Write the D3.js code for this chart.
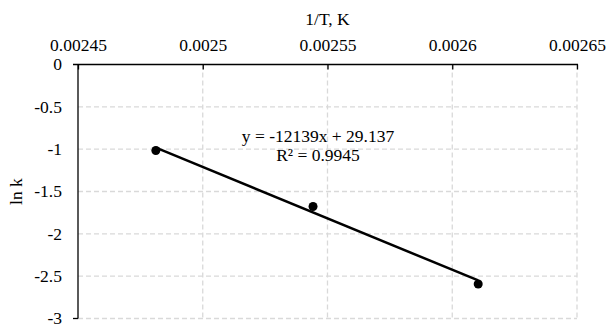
<!DOCTYPE html>
<html>
<head>
<meta charset="utf-8">
<script src="https://cdnjs.cloudflare.com/ajax/libs/d3/7.8.5/d3.min.js"></script>
<style>
  body { margin: 0; background: #fff; }
  svg text { font-family: "Liberation Serif", "Times New Roman", serif; fill: #000; }
</style>
</head>
<body>
<div id="chart"></div>
<script>
// measured points (1/T vs ln k)
const invT = [0.0024812, 0.0025442, 0.0026104];
const lnK = [-1.016, -1.677, -2.592];
// linear trendline shown in the chart
const slope = -12139;
const intercept = 29.137;
const xTicks = [0.00245, 0.0025, 0.00255, 0.0026, 0.00265];
const xTickLabels = ["0.00245", "0.0025", "0.00255", "0.0026", "0.00265"];
const yTicks = [0, -0.5, -1, -1.5, -2, -2.5, -3];
const yTickLabels = ["0", "-0.5", "-1", "-1.5", "-2", "-2.5", "-3"];

const width = 609, height = 327;
const margin = {top: 64.5, right: 32, bottom: 8, left: 78};
const fontSize = "17.5px";

const svg = d3.select("#chart")
  .append("svg")
  .attr("width", width)
  .attr("height", height);

const x = d3.scaleLinear()
  .domain([0.00245, 0.00265])
  .range([margin.left, width - margin.right]);

const y = d3.scaleLinear()
  .domain([0, -3])
  .range([margin.top, height - margin.bottom - 0.5]);

// gridlines
svg.append("g")
  .selectAll("line")
  .data(yTicks.filter(d => d !== 0))
  .enter()
  .append("line")
  .attr("x1", x(0.00245))
  .attr("x2", x(0.00265))
  .attr("y1", d => y(d))
  .attr("y2", d => y(d))
  .attr("stroke", "#d9d9d9")
  .attr("stroke-width", 1.3)
  .attr("stroke-dasharray", "5,3");

svg.append("g")
  .selectAll("line")
  .data(xTicks.slice(1))
  .enter()
  .append("line")
  .attr("x1", d => x(d))
  .attr("x2", d => x(d))
  .attr("y1", y(0))
  .attr("y2", y(-3))
  .attr("stroke", "#d9d9d9")
  .attr("stroke-width", 1.3)
  .attr("stroke-dasharray", "5,3");

// top x axis
const xAxis = d3.axisTop(x)
  .tickValues(xTicks)
  .tickFormat((d, i) => xTickLabels[i])
  .tickSize(-5)
  .tickPadding(14);

const gx = svg.append("g")
  .attr("transform", "translate(0," + y(0) + ")")
  .call(xAxis);
gx.select(".domain").remove();
gx.selectAll(".tick line").attr("stroke", "#000").attr("stroke-width", 1.3);
gx.selectAll(".tick text")
  .style("font-size", fontSize)
  .style("font-family", "'Liberation Serif', serif");
gx.append("line")
  .attr("x1", x(0.00245) - 5)
  .attr("x2", x(0.00265) + 1)
  .attr("y1", 0).attr("y2", 0)
  .attr("stroke", "#000")
  .attr("stroke-width", 1.3);

// left y axis
const yAxis = d3.axisLeft(y)
  .tickValues(yTicks)
  .tickFormat((d, i) => yTickLabels[i])
  .tickSize(0)
  .tickPadding(16);

const gy = svg.append("g")
  .attr("transform", "translate(" + x(0.00245) + ",0)")
  .call(yAxis);
gy.select(".domain").remove();
gy.selectAll(".tick text")
  .style("font-size", fontSize)
  .style("font-family", "'Liberation Serif', serif")
  .attr("dy", "0.3em");
gy.append("line")
  .attr("x1", 0).attr("x2", 0)
  .attr("y1", y(0))
  .attr("y2", y(-3))
  .attr("stroke", "#000")
  .attr("stroke-width", 1.3);
gy.append("line")
  .attr("x1", -5).attr("x2", 0)
  .attr("y1", y(-3)).attr("y2", y(-3))
  .attr("stroke", "#000")
  .attr("stroke-width", 1.3);

// axis titles
svg.append("text")
  .attr("x", (x(0.00245) + x(0.00265)) / 2)
  .attr("y", 25)
  .attr("text-anchor", "middle")
  .style("font-size", fontSize)
  .text("1/T, K");

svg.append("text")
  .attr("transform", "translate(22," + (y(0) + y(-3)) / 2 + ") rotate(-90)")
  .attr("text-anchor", "middle")
  .style("font-size", fontSize)
  .text("ln k");

// trendline
const xMin = d3.min(invT), xMax = d3.max(invT);
svg.append("line")
  .attr("x1", x(xMin))
  .attr("y1", y(slope * xMin + intercept))
  .attr("x2", x(xMax))
  .attr("y2", y(slope * xMax + intercept))
  .attr("stroke", "#000")
  .attr("stroke-width", 2.5);

// points
svg.append("g")
  .selectAll("circle")
  .data(invT.map((d, i) => [d, lnK[i]]))
  .enter()
  .append("circle")
  .attr("cx", d => x(d[0]))
  .attr("cy", d => y(d[1]))
  .attr("r", 4.5)
  .attr("fill", "#000");

// equation label
svg.append("text")
  .attr("x", 318)
  .attr("y", 142)
  .attr("text-anchor", "middle")
  .style("font-size", fontSize)
  .text("y = " + slope + "x + " + intercept);

svg.append("text")
  .attr("x", 318)
  .attr("y", 161)
  .attr("text-anchor", "middle")
  .style("font-size", fontSize)
  .text("R² = 0.9945");
</script>
</body>
</html>
